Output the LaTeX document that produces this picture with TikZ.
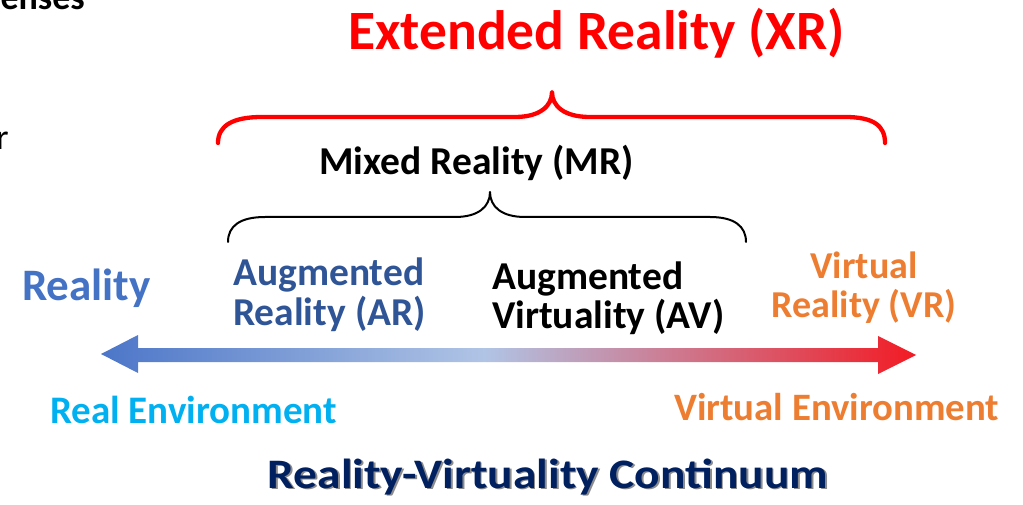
\documentclass[tikz,border=0pt]{standalone}
\usepackage{fontspec}
\usepackage{graphicx}
\setmainfont{Carlito}
\definecolor{xrred}{RGB}{255,0,0}
\definecolor{realblue}{RGB}{68,114,196}
\definecolor{arblue}{RGB}{47,85,151}
\definecolor{vrorange}{RGB}{237,125,49}
\definecolor{envcyan}{RGB}{0,176,240}
\definecolor{navy}{RGB}{0,32,96}
\definecolor{arrblue}{RGB}{76,118,200}
\definecolor{midlight}{RGB}{176,196,229}
\definecolor{arrred}{RGB}{242,27,36}
% blue -> pale -> red ramp for the continuum arrow (25bp..75bp spans the shape)
\pgfdeclarehorizontalshading{continuum}{100bp}{%
  color(0bp)=(arrblue); color(25bp)=(arrblue); color(48.5bp)=(midlight);
  color(75bp)=(arrred); color(100bp)=(arrred)}
\tikzset{
  lbl/.style={inner sep=0pt, font=\bfseries\fontsize{#1}{#1}\selectfont},
  brace/.style={line cap=round, line join=round}
}
\begin{document}
\begin{tikzpicture}[x=1pt, y=-1pt]
\useasboundingbox (0,0) rectangle (1023,505);

% partial slide text at the left edge
\node[lbl=36, anchor=base east] (senses) at (85,10) {senses};
\node[inner sep=0pt, font=\fontsize{36}{36}\selectfont, anchor=base east] (rtxt) at (9,150) {r};

% titles
\node[lbl=55.5, text=xrred, anchor=base] (xr) at (596.5,50) {Extended Reality (XR)};
\node[lbl=39.5, anchor=base] (mr) at (476.5,175) {Mixed Reality (MR)};

% outer brace (XR)
\draw[brace, xrred, line width=4.3pt]
  (218,143) .. controls (218,126) and (232,117) .. (262,117)
  -- (515,117) .. controls (540,117) and (552,106) .. (552,92)
  .. controls (552,106) and (564,117) .. (590,117)
  -- (845,117) .. controls (874,117) and (885,126) .. (885,143);

% inner brace (MR)
\draw[brace, black, line width=2pt]
  (228,242) .. controls (228,226) and (240,217) .. (265,217)
  -- (455,217) .. controls (478,217) and (490,207) .. (490,192)
  .. controls (490,207) and (502,217) .. (525,217)
  -- (710,217) .. controls (734,217) and (746,226) .. (746,242);

% category labels
\node[lbl=45, text=realblue, anchor=base west] (real) at (22,300) {Reality};
\node[lbl=39.5, text=arblue, anchor=base west] (ar1) at (233,285) {Augmented};
\node[lbl=39.5, text=arblue, anchor=base west] (ar2) at (233,325) {Reality (AR)};
\node[lbl=39.5, text=black, anchor=base west] (av1) at (492,290) {Augmented};
\node[lbl=39.5, text=black, anchor=base west] (av2) at (492,328) {Virtuality (AV)};
\node[lbl=38, text=vrorange, anchor=base] (vr1) at (864,278) {Virtual};
\node[lbl=38, text=vrorange, anchor=base] (vr2) at (864,317) {Reality (VR)};

% continuum double arrow with colour gradient
\shade[shading=continuum]
  (101,354) -- (138,335) -- (138,348) -- (878,348) -- (878,336)
  -- (916,355) -- (878,374) -- (878,362) -- (138,362) -- (138,373) -- cycle;

% end labels
\node[lbl=39, text=envcyan, anchor=base west] (renv) at (50,423) {Real Environment};
\node[lbl=38.8, text=vrorange, anchor=base west] (venv) at (674,420) {Virtual Environment};

% caption with soft shadow
\node[lbl=42, text=black!45, anchor=base] (capsh) at (549.5,489.5) {\scalebox{1.13}[1]{Reality-Virtuality Continuum}};
\node[lbl=42, text=navy, anchor=base] (cap) at (548,488) {\scalebox{1.13}[1]{Reality-Virtuality Continuum}};
\end{tikzpicture}
\end{document}
